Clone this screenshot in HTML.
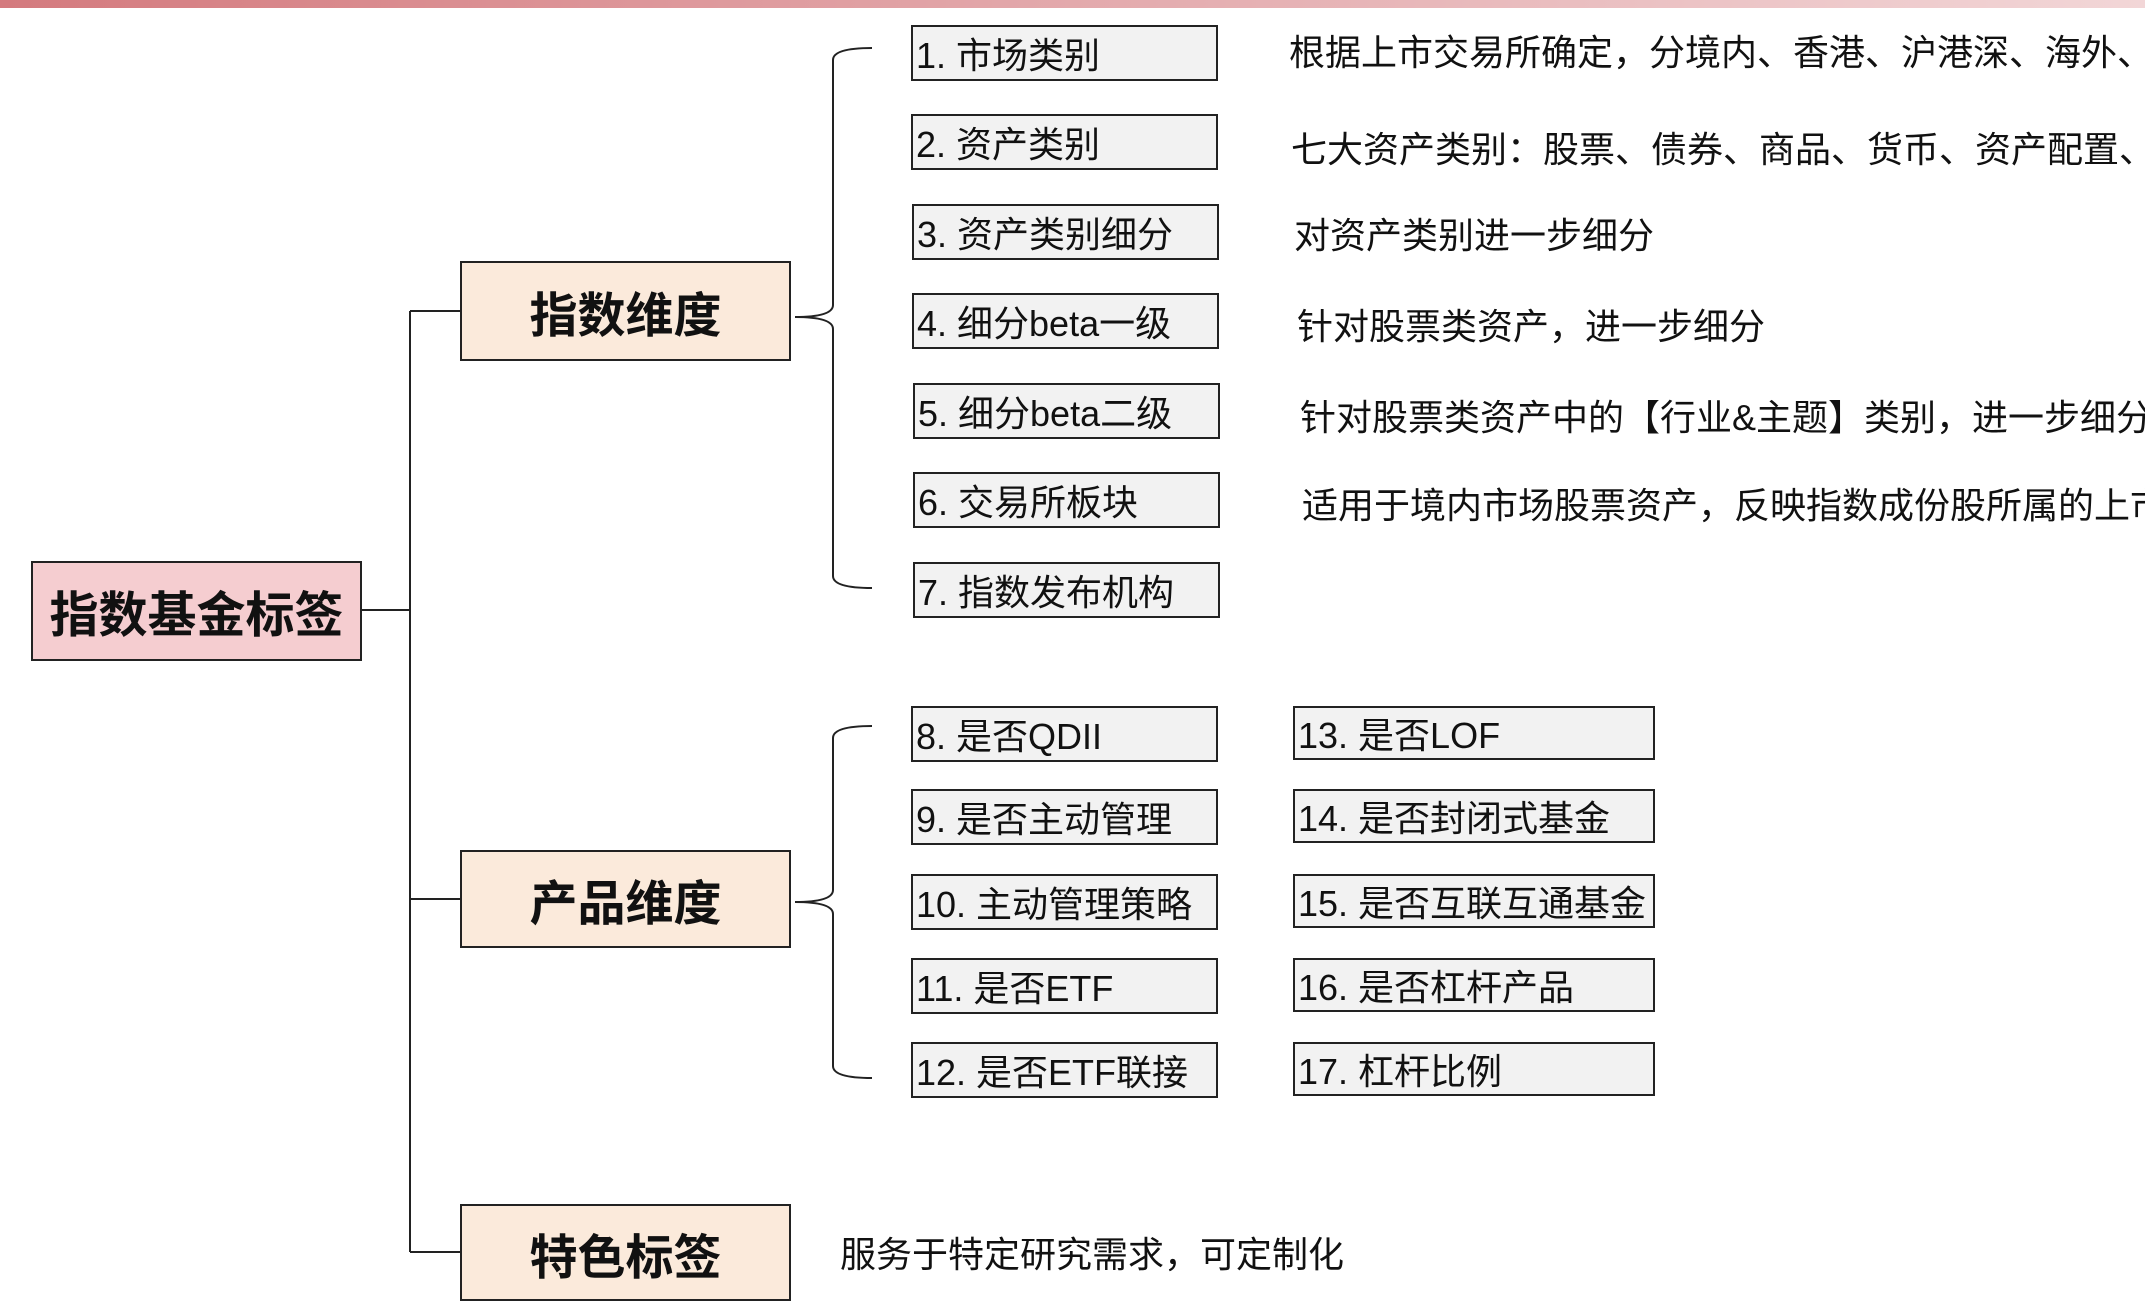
<!DOCTYPE html>
<html><head><meta charset="utf-8"><style>
html,body{margin:0;padding:0;}
body{width:2145px;height:1311px;position:relative;overflow:hidden;background:#fff;font-family:"Liberation Sans","Noto Sans CJK SC",sans-serif;color:#111;}
.bar{position:absolute;left:0;top:0;width:2145px;height:8px;background:linear-gradient(90deg,#d47a7e,#e3a9ac 50%,#f2d6d7);}
.b{position:absolute;box-sizing:border-box;border:2px solid #222;}
.big{background:#fbeadb;font-weight:bold;font-size:48px;display:flex;align-items:center;justify-content:center;}
.root{background:#f5cdd0;font-size:49px;}
.it{background:#f2f2f2;font-size:36px;display:flex;align-items:center;padding-left:3px;white-space:nowrap;height:56px;overflow:visible;}
.d{position:absolute;font-size:36px;white-space:nowrap;line-height:1;transform:translateY(-50%);}
svg{position:absolute;left:0;top:0;}
</style></head><body>
<div class="bar"></div>
<svg width="2145" height="1311" fill="none" stroke="#222" stroke-width="2">
<path d="M362 610 H410 M410 311 V1252 M410 311 H460 M410 899 H460 M410 1252 H460"/>
<path d="M872 48 Q833 48 833 60 V305 Q833 317 795 317 Q833 317 833 329 V576 Q833 588 872 588"/>
<path d="M872 726 Q833 726 833 738 V890 Q833 902 795 902 Q833 902 833 914 V1066 Q833 1078 872 1078"/>
</svg>
<div class="b big root" style="left:31px;top:561px;width:331px;height:100px;">指数基金标签</div>
<div class="b big" style="left:460px;top:261px;width:331px;height:100px;">指数维度</div>
<div class="b big" style="left:460px;top:850px;width:331px;height:98px;">产品维度</div>
<div class="b big" style="left:460px;top:1204px;width:331px;height:97px;">特色标签</div>

<div class="b it" style="left:911px;top:25px;width:307px;">1. 市场类别</div>
<div class="b it" style="left:911px;top:114px;width:307px;">2. 资产类别</div>
<div class="b it" style="left:912px;top:204px;width:307px;">3. 资产类别细分</div>
<div class="b it" style="left:912px;top:293px;width:307px;">4. 细分beta一级</div>
<div class="b it" style="left:913px;top:383px;width:307px;">5. 细分beta二级</div>
<div class="b it" style="left:913px;top:472px;width:307px;">6. 交易所板块</div>
<div class="b it" style="left:913px;top:562px;width:307px;">7. 指数发布机构</div>

<div class="b it" style="left:911px;top:706px;width:307px;">8. 是否QDII</div>
<div class="b it" style="left:911px;top:789px;width:307px;">9. 是否主动管理</div>
<div class="b it" style="left:911px;top:874px;width:307px;">10. 主动管理策略</div>
<div class="b it" style="left:911px;top:958px;width:307px;">11. 是否ETF</div>
<div class="b it" style="left:911px;top:1042px;width:307px;">12. 是否ETF联接</div>

<div class="b it" style="left:1293px;top:706px;width:362px;height:54px;">13. 是否LOF</div>
<div class="b it" style="left:1293px;top:789px;width:362px;height:54px;">14. 是否封闭式基金</div>
<div class="b it" style="left:1293px;top:874px;width:362px;height:54px;">15. 是否互联互通基金</div>
<div class="b it" style="left:1293px;top:958px;width:362px;height:54px;">16. 是否杠杆产品</div>
<div class="b it" style="left:1293px;top:1042px;width:362px;height:54px;">17. 杠杆比例</div>

<div class="d" style="left:1289px;top:53px;">根据上市交易所确定，分境内、香港、沪港深、海外、</div>
<div class="d" style="left:1291px;top:150px;">七大资产类别：股票、债券、商品、货币、资产配置、</div>
<div class="d" style="left:1294px;top:236px;">对资产类别进一步细分</div>
<div class="d" style="left:1297px;top:327px;">针对股票类资产，进一步细分</div>
<div class="d" style="left:1300px;top:418px;">针对股票类资产中的【行业&amp;主题】类别，进一步细分</div>
<div class="d" style="left:1302px;top:506px;">适用于境内市场股票资产，反映指数成份股所属的上市</div>
<div class="d" style="left:840px;top:1255px;">服务于特定研究需求，可定制化</div>
</body></html>
